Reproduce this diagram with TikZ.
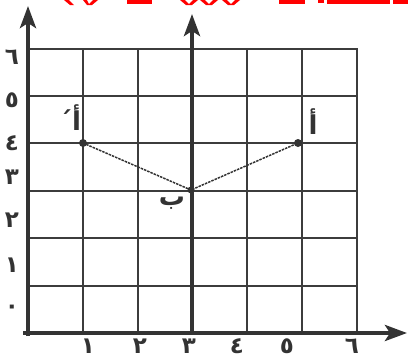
\documentclass[tikz,border=0pt]{standalone}
\usepackage{fontspec}
\newfontfamily\arabicfont[Script=Arabic]{DejaVu Sans}
\TeXXeTstate=1
\usetikzlibrary{arrows.meta}
\definecolor{gridc}{HTML}{3C3C3C}
\definecolor{axisc}{HTML}{333333}
\definecolor{redc}{HTML}{FF0000}
\tikzset{
  gridline/.style={draw=gridc, line width=1.7pt},
  axisline/.style={draw=axisc, line width=4pt, -{Stealth[length=22pt,width=16pt,inset=5pt]}},
  seg/.style={draw=axisc, line width=1.5pt, dash pattern=on 2.5pt off 1pt},
  dotfill/.style={fill=axisc},
  numlbl/.style={inner sep=0pt, font=\arabicfont\bfseries\fontsize{23}{23}\selectfont, text=axisc},
  ptlbl/.style={inner sep=0pt, font=\arabicfont\bfseries\fontsize{26}{26}\selectfont, text=axisc},
  redfrag/.style={fill=redc, draw=none}
}
\begin{document}
\begin{tikzpicture}[x=1pt,y=-1pt]
\useasboundingbox (0,0) rectangle (408,360);
% red header fragments (clipped text at top)
\begin{scope}
\clip (0,0) rectangle (408,5);
\fill[redfrag] (64,0) -- (69,0) -- (74,5) -- (70,5) -- cycle;
\fill[redfrag] (83,0) -- (87,0) -- (89,4) -- (93,0) -- (98,0) -- (92,5) -- (87,5) -- cycle;
\fill[redfrag] (127,0) rectangle (152,3.5);
\fill[redfrag] (180,0) -- (185,0) -- (189,4) -- (193,0) -- (198,0) -- (192,5) -- (186,5) -- cycle;
\fill[redfrag] (200,0) -- (205,0) -- (209,4) -- (213,0) -- (218,0) -- (212,5) -- (206,5) -- cycle;
\fill[redfrag] (222,0) -- (227,0) -- (231,4) -- (235,0) -- (240,0) -- (234,5) -- (228,5) -- cycle;
\fill[redfrag] (279,0) rectangle (305,3.5);
\fill[redfrag] (318,0) rectangle (324,2.5);
\fill[redfrag] (327,0) rectangle (390,3.5);
\fill[redfrag] (393,0) rectangle (408,3.5);
\end{scope}
% grid
\foreach \y in {49,96,143,191,238,286} \draw[gridline] (28,\y) -- (358,\y);
\foreach \x in {83,138,247,302,357} \draw[gridline] (\x,49) -- (\x,333);
% axes
\coordinate (yo) at (28,336);
\coordinate (ytip) at (28,6);
\coordinate (mo) at (192,333);
\coordinate (mtip) at (192,14);
\coordinate (xo) at (23,333);
\coordinate (xtip) at (407,333);
\draw[axisline] (yo) -- (ytip);
\draw[axisline] (mo) -- (mtip);
\draw[axisline] (xo) -- (xtip);
% points
\coordinate (A1) at (83,143);
\coordinate (B) at (191,190);
\coordinate (A) at (298,143);
\draw[seg] (A1) -- (B) -- (A);
\fill[dotfill] (A1) circle (4pt);
\fill[dotfill] (B) circle (3.5pt);
\fill[dotfill] (A) circle (4pt);
% point labels
\node[ptlbl] (lA) at (313,122) {\beginR أ\endR};
\node[ptlbl] (lA1) at (70,118) {\beginR أ´\endR};
\node[ptlbl] (lB) at (172,203) {\beginR ب\endR};
% y labels
\node[numlbl] (y6) at (12,57) {٦};
\node[numlbl] (y5) at (12,100) {٥};
\node[numlbl] (y4) at (12,143) {٤};
\node[numlbl] (y3) at (12,177) {٣};
\node[numlbl] (y2) at (12,220) {٢};
\node[numlbl] (y1) at (12,265) {١};
\node[numlbl] (y0) at (12,309) {٠};
% x labels
\node[numlbl] (x1) at (88,346) {١};
\node[numlbl] (x2) at (140,346) {٢};
\node[numlbl] (x3) at (189,346) {٣};
\node[numlbl] (x4) at (237,346) {٤};
\node[numlbl] (x5) at (287,346) {٥};
\node[numlbl] (x6) at (352,346) {٦};
\end{tikzpicture}
\end{document}
